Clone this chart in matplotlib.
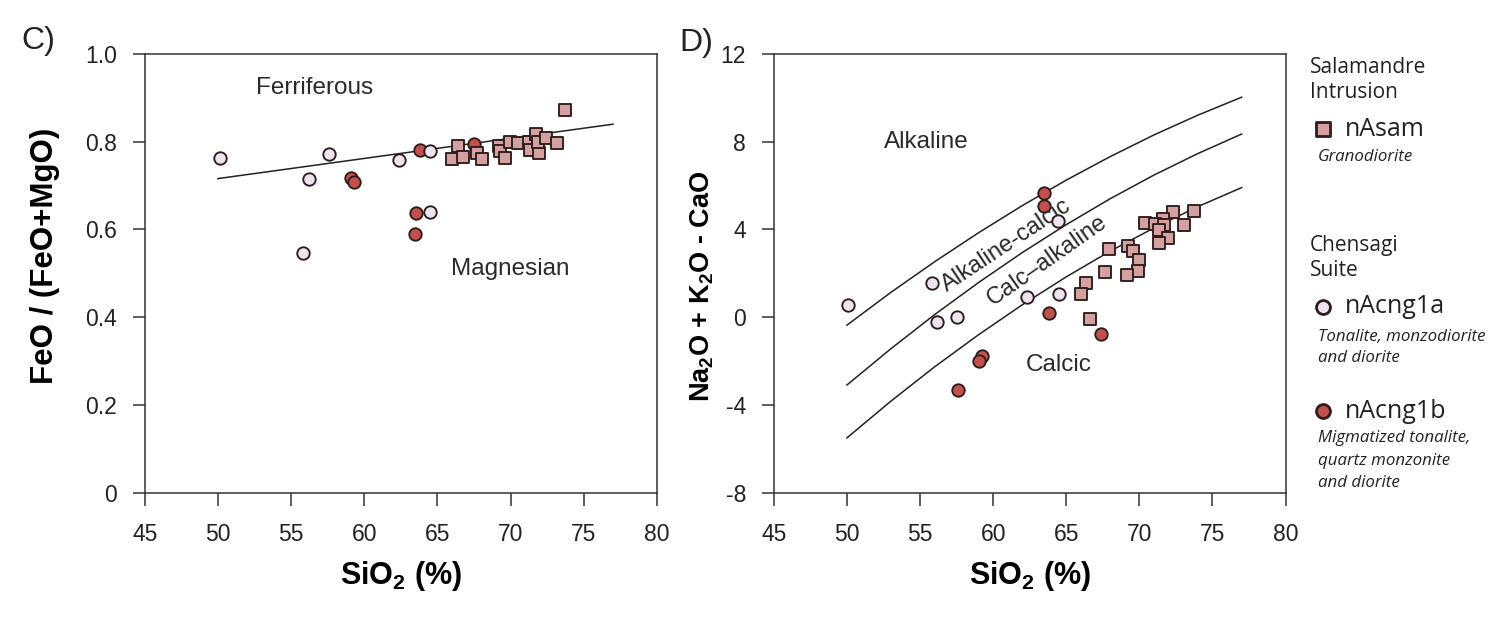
import numpy as np
import matplotlib
matplotlib.use('Agg')
import matplotlib.pyplot as plt

plt.rcParams['font.family'] = ['Liberation Sans', 'DejaVu Sans']
plt.rcParams['mathtext.fontset'] = 'custom'
plt.rcParams['mathtext.rm'] = 'Liberation Sans:bold'
plt.rcParams['mathtext.bf'] = 'Liberation Sans:bold'
plt.rcParams['mathtext.default'] = 'rm'
plt.rcParams['axes.unicode_minus'] = False

# ---- panel C : FeO/(FeO+MgO) vs SiO2
c_sam_si = [73.74, 66.39, 66.02, 66.73, 67.73, 68.05, 69.21, 69.28, 69.64, 69.96,
            70.49, 71.26, 71.35, 71.76, 71.97, 71.90, 72.42, 73.15]
c_sam_fe = [0.873, 0.791, 0.761, 0.766, 0.774, 0.760, 0.790, 0.779, 0.763, 0.800,
            0.796, 0.799, 0.781, 0.817, 0.774, 0.799, 0.809, 0.796]
c_1a_si = [50.14, 57.61, 56.20, 55.84, 62.38, 64.52, 64.52]
c_1a_fe = [0.764, 0.772, 0.714, 0.547, 0.758, 0.780, 0.640]
c_1b_si = [59.12, 59.32, 63.79, 63.51, 63.47, 67.48]
c_1b_fe = [0.718, 0.708, 0.781, 0.637, 0.589, 0.794]
fe_line_x = [50, 77]
fe_line_y = [0.716, 0.840]

# ---- panel D : MALI vs SiO2
d_sam_si = [73.72, 72.28, 71.64, 70.39, 71.07, 71.71, 73.08, 71.35, 71.94, 71.32,
            67.95, 69.20, 69.59, 70.00, 69.93, 69.16, 67.68, 66.33, 65.99, 66.65]
d_sam_mali = [4.83, 4.81, 4.46, 4.28, 4.25, 4.20, 4.19, 3.98, 3.61, 3.40,
              3.12, 3.26, 3.00, 2.61, 2.12, 1.91, 2.05, 1.56, 1.04, -0.10]
d_1a_si = [50.10, 55.84, 56.14, 57.51, 64.46, 62.32, 64.53]
d_1a_mali = [0.56, 1.57, -0.20, 0.02, 4.39, 0.94, 1.06]
d_1b_si = [63.50, 63.46, 63.80, 67.36, 59.22, 59.06, 57.58]
d_1b_mali = [5.68, 5.07, 0.18, -0.75, -1.75, -1.98, -3.32]

mali_x = [50, 53, 56, 59, 62, 65, 68, 71, 74, 77]
alk_alkcalc = [-0.36, 1.13, 2.53, 3.85, 5.09, 6.25, 7.32, 8.31, 9.21, 10.03]
alkcalc_calcalk = [-3.09, -1.44, 0.12, 1.58, 2.95, 4.22, 5.40, 6.48, 7.46, 8.35]
calcalk_calcic = [-5.50, -3.83, -2.26, -0.80, 0.57, 1.84, 3.01, 4.07, 5.04, 5.91]

col_sam = '#d4a0a0'
col_1a = '#ece4ee'
col_1b = '#c2514d'
edge = '#2e1c1c'
spine = '#333333'
txt = '#2a2a2a'

fig = plt.figure(figsize=(15, 6.36), dpi=100)
ax1 = fig.add_axes([0.0965, 0.2253, 0.3414, 0.6898])
ax2 = fig.add_axes([0.5159, 0.2253, 0.3411, 0.6898])


def style(ax):
    for s in ax.spines.values():
        s.set_color(spine)
        s.set_linewidth(1.1)
    ax.tick_params(direction='out', length=9, width=1.1, color=spine,
                   labelsize=16.5, labelcolor='#222222')
    ax.tick_params(axis='y', pad=11)
    ax.tick_params(axis='x', pad=13)
    ax.set_xlim(45, 80)
    ax.set_xticks([45, 50, 55, 60, 65, 70, 75, 80])


def points(ax, xs, ys, marker, fc, z):
    ax.scatter(xs, ys, s=80, marker=marker, facecolor=fc, edgecolor=edge,
               linewidth=1.35, zorder=z)


# panel C
ax1.plot(fe_line_x, fe_line_y, color='#222222', lw=1.1, zorder=1)
points(ax1, c_1b_si, c_1b_fe, 'o', col_1b, 3)
points(ax1, c_1a_si, c_1a_fe, 'o', col_1a, 4)
points(ax1, c_sam_si, c_sam_fe, 's', col_sam, 5)
style(ax1)
ax1.set_ylim(0, 1.0)
ax1.set_yticks([0, 0.2, 0.4, 0.6, 0.8, 1.0])
ax1.set_yticklabels(['0', '0.2', '0.4', '0.6', '0.8', '1.0'])
ax1.set_xlabel('SiO$_2$ (%)', fontsize=22, fontweight='bold')
ax1.xaxis.set_label_coords(0.5, -0.152)
ax1.set_ylabel('FeO / (FeO+MgO)', fontsize=22.5, fontweight='bold')
ax1.yaxis.set_label_coords(-0.165, 0.54)
ax1.text(56.6, 0.922, 'Ferriferous', fontsize=17.5, color=txt, ha='center', va='center')
ax1.text(69.96, 0.511, 'Magnesian', fontsize=17.5, color=txt, ha='center', va='center')

# panel D
for curve in [alk_alkcalc, alkcalc_calcalk, calcalk_calcic]:
    ax2.plot(mali_x, curve, color='#222222', lw=1.1, zorder=1)
points(ax2, d_1b_si, d_1b_mali, 'o', col_1b, 3)
points(ax2, d_1a_si, d_1a_mali, 'o', col_1a, 4)
points(ax2, d_sam_si, d_sam_mali, 's', col_sam, 5)
style(ax2)
ax2.set_ylim(-8, 12)
ax2.set_yticks([-8, -4, 0, 4, 8, 12])
ax2.set_xlabel('SiO$_2$ (%)', fontsize=22, fontweight='bold')
ax2.xaxis.set_label_coords(0.5, -0.152)
ax2.set_ylabel('Na$_2$O + K$_2$O - CaO', fontsize=19.5, fontweight='bold')
ax2.yaxis.set_label_coords(-0.113, 0.47)
ax2.text(55.4, 8.0, 'Alkaline', fontsize=17.5, color=txt, ha='center', va='center')
ax2.text(64.5, -2.18, 'Calcic', fontsize=17.5, color=txt, ha='center', va='center')
ax2.text(60.9, 3.25, 'Alkaline-calcic', fontsize=17, color=txt, ha='center',
         va='center', rotation=33.5, rotation_mode='anchor')
ax2.text(63.72, 2.57, 'Calc\u2013alkaline', fontsize=17, color=txt, ha='center',
         va='center', rotation=35, rotation_mode='anchor')

# panel letters
fig.text(38 / 1500, 1 - 41 / 636, 'C)', fontsize=23, ha='center', va='center', color='#222222')
fig.text(696 / 1500, 1 - 43 / 636, 'D)', fontsize=23, ha='center', va='center', color='#222222')

# legend drawn in pixel coordinates
lg = fig.add_axes([0, 0, 1, 1], zorder=-1)
lg.set_xlim(0, 1500)
lg.set_ylim(636, 0)
lg.axis('off')
lf = ['Open Sans', 'DejaVu Sans']
head = dict(fontsize=15, family=lf, color='#222222', va='center', ha='left')
name = dict(fontsize=18, family=lf, color='#222222', va='center', ha='left')
desc = dict(fontsize=12.2, family=lf, style='italic', color='#222222', va='center', ha='left')

lg.text(1310, 67.5, 'Salamandre', **head)
lg.text(1310, 93, 'Intrusion', **head)
lg.scatter([1322.7], [129.3], s=110, marker='s', facecolor=col_sam, edgecolor=edge, linewidth=2.0)
lg.text(1345, 129.3, 'nAsam', **name)
lg.text(1318, 157, 'Granodiorite', **desc)

lg.text(1310, 245.7, 'Chensagi', **head)
lg.text(1310, 270, 'Suite', **head)
lg.scatter([1323.3], [306.7], s=100, marker='o', facecolor=col_1a, edgecolor=edge, linewidth=2.0)
lg.text(1345, 306.7, 'nAcng1a', **name)
lg.text(1318, 336.7, 'Tonalite, monzodiorite', **desc)
lg.text(1318, 358, 'and diorite', **desc)

lg.scatter([1323.3], [411], s=100, marker='o', facecolor=col_1b, edgecolor=edge, linewidth=2.0)
lg.text(1345, 411, 'nAcng1b', **name)
lg.text(1318, 438, 'Migmatized tonalite,', **desc)
lg.text(1318, 460.7, 'quartz monzonite', **desc)
lg.text(1318, 482.7, 'and diorite', **desc)

fig.savefig('out.png', dpi=100)
